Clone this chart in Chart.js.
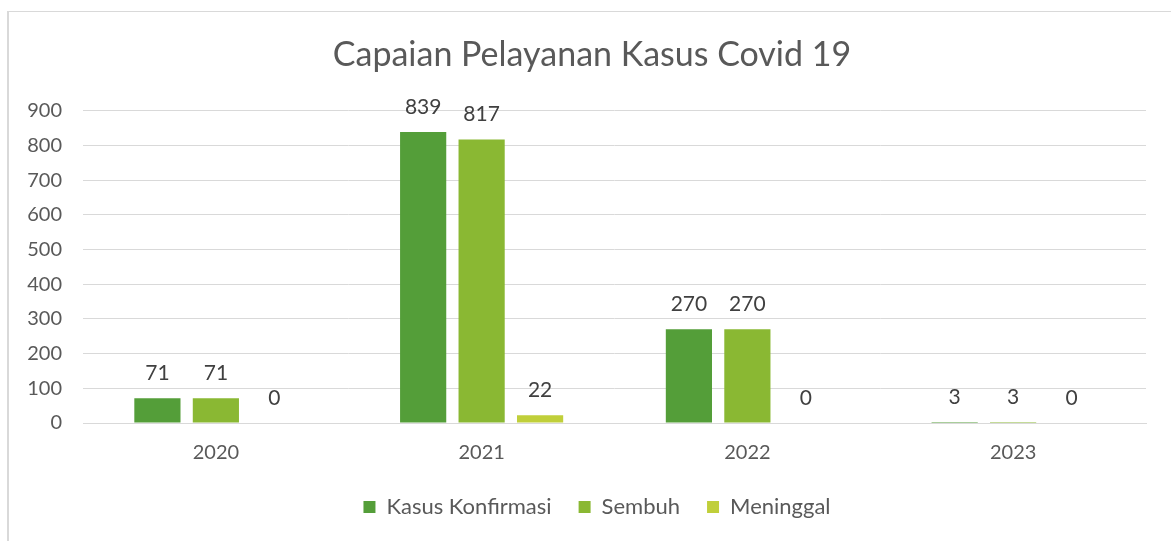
<!DOCTYPE html>
<html>
<head>
    <meta charset="UTF-8">
    <title>Capaian Pelayanan Kasus Covid 19</title>
    <script src="https://cdn.jsdelivr.net/npm/chart.js"></script>
    <style>
        html, body { margin: 0; padding: 0; background: #fff; }
        #wrap { position: relative; width: 1171px; height: 541px; overflow: hidden; }
        #frame { position: absolute; left: 7px; top: 11px; width: 1300px; height: 700px;
                 border-left: 2px solid #d9d9d9; border-top: 1px solid #d9d9d9; }
        canvas { position: absolute; left: 0; top: 0; }
    </style>
</head>
<body>
    <div id="wrap">
        <div id="frame"></div>
        <canvas id="covidChart" width="1171" height="541"></canvas>
    </div>

    <script>
        var years = ['2020', '2021', '2022', '2023'];
        var kasusKonfirmasi = [71, 839, 270, 3];
        var sembuh = [71, 817, 270, 3];
        var meninggal = [0, 22, 0, 0];
        var yTicks = [0, 100, 200, 300, 400, 500, 600, 700, 800, 900];

        var FONT = 'Lato, Carlito, "Open Sans", sans-serif';

        // draws the value above each bar
        var valueLabels = {
            id: 'valueLabels',
            afterDatasetsDraw: function (chart) {
                var ctx = chart.ctx;
                ctx.save();
                ctx.font = '21px ' + FONT;
                ctx.fillStyle = '#404040';
                ctx.textAlign = 'center';
                ctx.textBaseline = 'middle';
                chart.data.datasets.forEach(function (ds, i) {
                    chart.getDatasetMeta(i).data.forEach(function (bar, j) {
                        ctx.fillText(String(ds.data[j]), bar.x, bar.y - 25);
                    });
                });
                ctx.restore();
            }
        };

        // title and legend in the original sit a little right of the canvas centre
        var boxShift = {
            id: 'boxShift',
            afterUpdate: function (chart) {
                chart.legend.left += 24;
                chart.legend.right += 24;
                chart.titleBlock.left += 19;
                chart.titleBlock.right += 19;
            }
        };

        var ctx = document.getElementById('covidChart').getContext('2d');
        var covidChart = new Chart(ctx, {
            type: 'bar',
            data: {
                labels: years,
                datasets: [{
                    label: 'Kasus Konfirmasi',
                    data: kasusKonfirmasi,
                    backgroundColor: '#549e39'
                }, {
                    label: 'Sembuh',
                    data: sembuh,
                    backgroundColor: '#8ab833'
                }, {
                    label: 'Meninggal',
                    data: meninggal,
                    backgroundColor: '#c0cf3a'
                }]
            },
            options: {
                responsive: false,
                animation: false,
                categoryPercentage: 0.66,
                barPercentage: 0.79,
                layout: { padding: { left: 0, right: 25, top: 0, bottom: 13 } },
                plugins: {
                    title: {
                        display: true,
                        text: 'Capaian Pelayanan Kasus Covid 19',
                        color: '#595959',
                        font: { family: FONT, size: 34, weight: 'normal' },
                        padding: { top: 35, bottom: 35 }
                    },
                    legend: {
                        position: 'bottom',
                        labels: {
                            color: '#595959',
                            font: { family: FONT, size: 22 },
                            boxWidth: 12,
                            boxHeight: 12,
                            padding: 27
                        }
                    },
                    tooltip: { enabled: false }
                },
                scales: {
                    x: {
                        afterFit: function (scale) { scale.height = 46; },
                        grid: { display: false, drawTicks: false },
                        border: { color: '#d9d9d9' },
                        ticks: {
                            color: '#595959',
                            font: { family: FONT, size: 20 },
                            padding: 18
                        }
                    },
                    y: {
                        min: 0,
                        max: 900,
                        afterFit: function (scale) { scale.width = 83; },
                        afterBuildTicks: function (scale) {
                            scale.ticks = yTicks.map(function (v) { return { value: v }; });
                        },
                        grid: { color: '#d9d9d9', drawTicks: false },
                        border: { display: false },
                        ticks: {
                            color: '#595959',
                            font: { family: FONT, size: 20 },
                            padding: 21
                        }
                    }
                }
            },
            plugins: [valueLabels, boxShift]
        });
    </script>
</body>
</html>
